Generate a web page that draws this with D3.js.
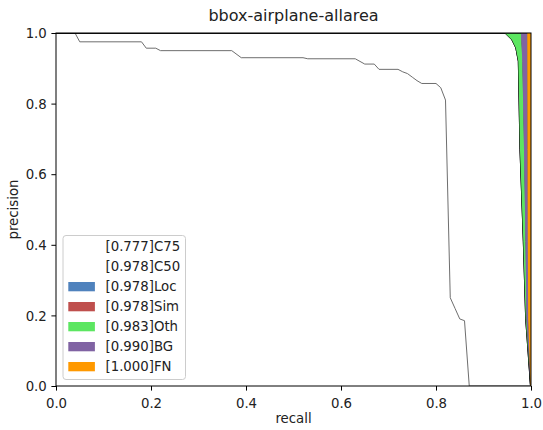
<!DOCTYPE html>
<html><head><meta charset="utf-8">
<script src="https://cdn.jsdelivr.net/npm/d3@7"></script>
<style>body{margin:0;background:#fff}svg{display:block}</style>
</head><body><svg id="c" width="543" height="430"></svg>
<script>
// ---- data ----
const c75Recall    = [0, 0.04, 0.05, 0.18, 0.19, 0.21, 0.22, 0.37, 0.39, 0.52, 0.53, 0.63, 0.65, 0.67, 0.68, 0.72, 0.73, 0.74, 0.75, 0.76, 0.77, 0.80, 0.81, 0.82, 0.83, 0.84, 0.85, 0.86, 0.87, 1.0];
const c75Precision = [1.0, 1.0, 0.975, 0.975, 0.957, 0.957, 0.95, 0.95, 0.93, 0.93, 0.927, 0.927, 0.912, 0.912, 0.897, 0.897, 0.89, 0.885, 0.875, 0.865, 0.857, 0.857, 0.845, 0.81, 0.25, 0.22, 0.19, 0.185, 0.0, 0.0];

const c50Recall    = [0, 0.945, 0.96, 0.968, 0.9733, 0.9768, 0.9838, 0.9888, 0.999, 1.0];
const c50Precision = [1, 1, 0.98, 0.958, 0.92, 0.67, 0.41, 0.19, 0, 0];
const locRecall    = [0, 0.945, 0.96, 0.968, 0.9733, 0.9768, 0.9838, 0.9888, 0.999, 1.0];
const locPrecision = [1, 1, 0.98, 0.958, 0.92, 0.67, 0.41, 0.19, 0, 0];
const simRecall    = [0, 0.945, 0.96, 0.968, 0.9733, 0.9768, 0.9838, 0.9888, 0.999, 1.0];
const simPrecision = [1, 1, 0.98, 0.958, 0.92, 0.67, 0.41, 0.19, 0, 0];
const othRecall    = [0, 0.979, 0.9817, 0.9853, 0.9884, 0.9905, 0.999, 1.0];
const othPrecision = [1, 1, 0.92, 0.67, 0.41, 0.19, 0, 0];
const bgRecall     = [0, 0.9922, 0.9926, 0.9933, 0.9941, 0.999, 1.0];
const bgPrecision  = [1, 1, 0.67, 0.41, 0.19, 0, 0];
const fnRecall     = [0, 1.0];
const fnPrecision  = [1, 1];

const legendLabels = ["[0.777]C75", "[0.978]C50", "[0.978]Loc", "[0.978]Sim", "[0.983]Oth", "[0.990]BG", "[1.000]FN"];
const legendColors = ["#ffffff", "#ffffff", "rgb(79,130,189)", "rgb(191,79,77)", "rgb(92,230,97)", "rgb(128,99,163)", "rgb(255,153,0)"];
const xTicks = [0, 0.2, 0.4, 0.6, 0.8, 1.0];
const yTicks = [0, 0.2, 0.4, 0.6, 0.8, 1.0];
const titleText = "bbox-airplane-allarea";

// ---- drawing ----
const svg = d3.select("#c");
const FONT = "DejaVu Sans, sans-serif";
const L = 56, R = 531, T = 33, B = 386;
const x = d3.scaleLinear().domain([0, 1]).range([L, R]);
const y = d3.scaleLinear().domain([0, 1]).range([B, T]);

svg.append("defs").append("clipPath").attr("id", "clip")
  .append("rect").attr("x", L).attr("y", T).attr("width", R - L).attr("height", B - T);
const plot = svg.append("g").attr("clip-path", "url(#clip)");

const pts = (rs, ps) => rs.map((r, i) => [x(r), y(ps[i])]);
const line = d3.line();

// C75 line
plot.append("path").attr("d", line(pts(c75Recall, c75Precision)))
  .attr("fill", "none").attr("stroke", "#6e6e6e").attr("stroke-width", 1);

// C50 line
plot.append("path").attr("d", line(pts(c50Recall, c50Precision)))
  .attr("fill", "none").attr("stroke", "#000").attr("stroke-width", 0.7);

const curves = [
  [c50Recall, c50Precision], [locRecall, locPrecision], [simRecall, simPrecision],
  [othRecall, othPrecision], [bgRecall, bgPrecision], [fnRecall, fnPrecision]
];
for (let k = 1; k < curves.length; k++) {
  const lo = pts(curves[k - 1][0], curves[k - 1][1]);
  const up = pts(curves[k][0], curves[k][1]);
  plot.append("path").attr("d", line(up))
    .attr("fill", "none").attr("stroke", "#000").attr("stroke-width", 0.7);
  plot.append("path").attr("d", line(up.concat(lo.slice().reverse())) + "Z")
    .attr("fill", legendColors[k + 1]).attr("stroke", "none");
}

// axes
const xAxis = d3.axisBottom(x).tickValues(xTicks).tickFormat(d3.format(".1f")).tickSizeInner(4.6).tickSizeOuter(0).tickPadding(4.6);
const yAxis = d3.axisLeft(y).tickValues(yTicks).tickFormat(d3.format(".1f")).tickSizeInner(4.6).tickSizeOuter(0).tickPadding(4.6);
const gx = svg.append("g").attr("transform", `translate(0,${B})`).call(xAxis);
const gy = svg.append("g").attr("transform", `translate(${L},0)`).call(yAxis);
[gx, gy].forEach(g => {
  g.select(".domain").remove();
  g.selectAll("line").attr("stroke", "#000").attr("stroke-width", 1);
  g.selectAll("text").attr("font-family", FONT).attr("font-size", 13.3).attr("fill", "#222");
});
gx.selectAll("text").attr("dy", null).attr("y", 22);
gy.selectAll("text").attr("dy", "0.35em");

// spines
svg.append("rect").attr("x", L).attr("y", T).attr("width", R - L).attr("height", B - T)
  .attr("fill", "none").attr("stroke", "#000").attr("stroke-width", 1);

// labels
svg.append("text").attr("x", (L + R) / 2).attr("y", 21).attr("text-anchor", "middle")
  .attr("font-family", FONT).attr("font-size", 16).attr("fill", "#222").text(titleText);
svg.append("text").attr("x", (L + R) / 2).attr("y", 423).attr("text-anchor", "middle")
  .attr("font-family", FONT).attr("font-size", 13.3).attr("fill", "#222").text("recall");
svg.append("text").attr("transform", `translate(18,${(T + B) / 2}) rotate(-90)`).attr("text-anchor", "middle")
  .attr("font-family", FONT).attr("font-size", 13.3).attr("fill", "#222").text("precision");

// legend
const lg = svg.append("g");
lg.append("rect").attr("x", 63).attr("y", 235.5).attr("width", 122.5).attr("height", 144)
  .attr("rx", 3).attr("fill", "rgba(255,255,255,0.8)").attr("stroke", "#cccccc").attr("stroke-width", 1);
legendLabels.forEach((lab, i) => {
  const cy = 246.7 + i * 20;
  lg.append("rect").attr("x", 68.3).attr("y", cy - 4.7).attr("width", 26.6).attr("height", 9.3)
    .attr("fill", legendColors[i]);
  lg.append("text").attr("x", 105.5).attr("y", cy).attr("dy", "0.36em")
    .attr("font-family", FONT).attr("font-size", 13.3).attr("fill", "#222").text(lab);
});
</script></body></html>
